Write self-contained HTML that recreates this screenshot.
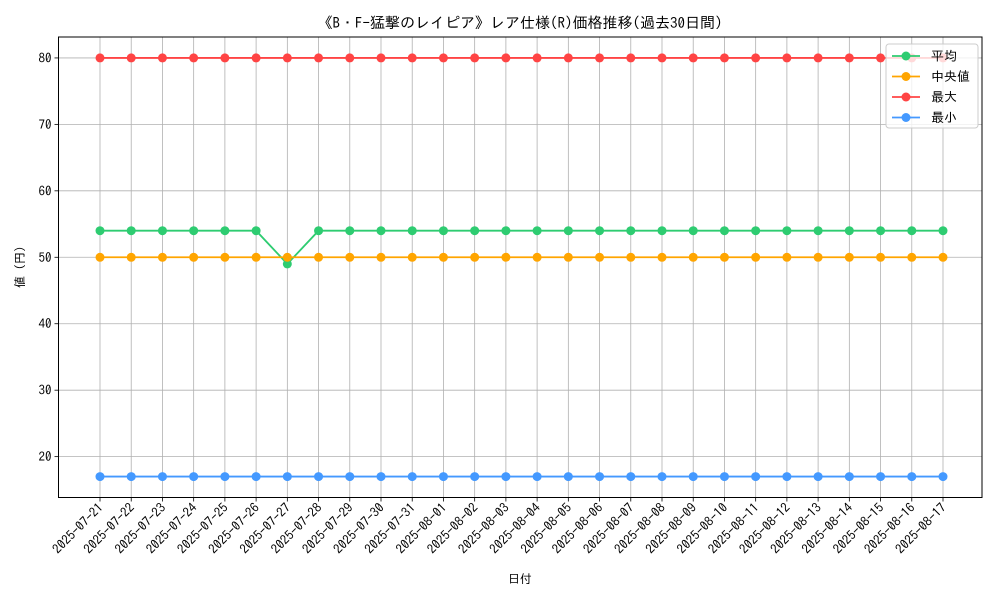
<!DOCTYPE html>
<html><head><meta charset="utf-8"><style>
body{margin:0;background:#fff;}
svg{font-family:"IPAGothic","Noto Sans CJK JP",sans-serif;}
</style></head><body>
<svg id="chart" width="1000" height="600" xmlns="http://www.w3.org/2000/svg">
<rect width="1000" height="600" fill="#fff"/>
<text x="520" y="28" text-anchor="middle" font-size="15">《B・F-猛撃のレイピア》レア仕様(R)価格推移(過去30日間)</text>
<g id="grid"></g><g id="series"></g><g id="axes"></g>
<text x="520" y="583" text-anchor="middle" font-size="12">日付</text>
<text transform="translate(24,267) rotate(-90)" text-anchor="middle" font-size="12">値 (円)</text>
<g>
<rect x="886" y="44" width="92" height="84" rx="3" fill="#fff" fill-opacity="0.8" stroke="#ccc"/>
<g id="legend-items"></g>
</g>
</svg>
<script>
const dates=["2025-07-21","2025-07-22","2025-07-23","2025-07-24","2025-07-25","2025-07-26","2025-07-27","2025-07-28","2025-07-29","2025-07-30","2025-07-31","2025-08-01","2025-08-02","2025-08-03","2025-08-04","2025-08-05","2025-08-06","2025-08-07","2025-08-08","2025-08-09","2025-08-10","2025-08-11","2025-08-12","2025-08-13","2025-08-14","2025-08-15","2025-08-16","2025-08-17"];
const avgValues=[54,54,54,54,54,54,49,54,54,54,54,54,54,54,54,54,54,54,54,54,54,54,54,54,54,54,54,54];
const medianValues=[50,50,50,50,50,50,50,50,50,50,50,50,50,50,50,50,50,50,50,50,50,50,50,50,50,50,50,50];
const maxValues=[80,80,80,80,80,80,80,80,80,80,80,80,80,80,80,80,80,80,80,80,80,80,80,80,80,80,80,80];
const minValues=[17,17,17,17,17,17,17,17,17,17,17,17,17,17,17,17,17,17,17,17,17,17,17,17,17,17,17,17];
const yTicks=[20,30,40,50,60,70,80];
const seriesNames=["平均","中央値","最大","最小"];
const seriesColors=["#2ecc71","#ffa500","#ff4444","#4499ff"];
const L=58.5,R=982,T=37,B=497.5;
const n=dates.length;
const all=[...avgValues,...medianValues,...maxValues,...minValues];
const dmin=Math.min(...all),dmax=Math.max(...all),pad=(dmax-dmin)*0.05;
const y0=dmin-pad,y1=dmax+pad;
const XL=100,XR=943;
const X=i=>XL+i*(XR-XL)/(n-1);
const Y=v=>B-(v-y0)/(y1-y0)*(B-T);
const NS="http://www.w3.org/2000/svg";
function mk(tag,attrs,parent){const e=document.createElementNS(NS,tag);for(const k in attrs)e.setAttribute(k,attrs[k]);parent.appendChild(e);return e;}
const grid=document.getElementById('grid'),axes=document.getElementById('axes'),ser=document.getElementById('series');
dates.forEach((d,i)=>{
 const g=mk('line',{x1:X(i),x2:X(i),y1:T,y2:B,stroke:'#b0b0b0','stroke-width':0.8},grid);
 
 
 const t=mk('line',{x1:X(i),x2:X(i),y1:B,y2:B+4,stroke:'#000','stroke-width':0.8},axes);
 
 
 const lb=mk('text',{transform:`translate(${X(i)+4},${B+11}) rotate(-45)`,'text-anchor':'end','font-size':13},axes);
 lb.textContent=d;
 
 
});
yTicks.forEach(v=>{
 const g=mk('line',{x1:L,x2:R,y1:Y(v),y2:Y(v),stroke:'#b0b0b0','stroke-width':0.8},grid);
 
 
 const t=mk('line',{x1:L-4,x2:L,y1:Y(v),y2:Y(v),stroke:'#000','stroke-width':0.8},axes);
 
 
 const lb=mk('text',{x:L-7,y:Y(v)+4.5,'text-anchor':'end','font-size':13},axes);
 lb.textContent=v;
 
 
});
const frame=mk('rect',{x:L,y:T,width:R-L,height:B-T,fill:'none',stroke:'#000','stroke-width':1},axes);


[avgValues,medianValues,maxValues,minValues].forEach((vals,s)=>{
 const g=mk('g',{},ser);
 
 
 mk('polyline',{points:vals.map((v,i)=>X(i)+','+Y(v)).join(' '),fill:'none',stroke:seriesColors[s],'stroke-width':1.8},g);
 vals.forEach((v,i)=>{
  const c=mk('circle',{cx:X(i),cy:Y(v),r:4.5,fill:seriesColors[s]},g);
  
  
 });
});
const li=document.getElementById('legend-items');
seriesNames.forEach((nm,s)=>{
 const yy=56+s*20.5;
 const g=mk('g',{},li);
 
 
 mk('line',{x1:892,x2:920,y1:yy,y2:yy,stroke:seriesColors[s],'stroke-width':1.8},g);
 mk('circle',{cx:906,cy:yy,r:4.5,fill:seriesColors[s]},g);
 const t=mk('text',{x:931,y:yy+4.5,'font-size':13},g);
 t.textContent=(s==1?' ':'')+nm;
});
</script>
</body></html>
